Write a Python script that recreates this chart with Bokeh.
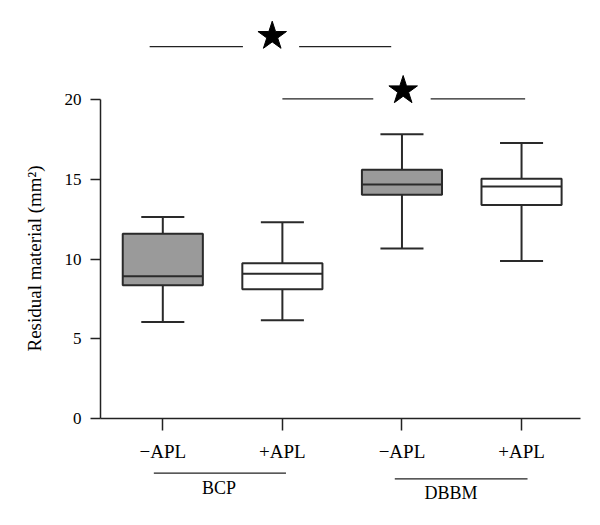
from bokeh.plotting import figure
from bokeh.layouts import column
from bokeh.models import Range1d, FixedTicker, ColumnDataSource, Title
from bokeh.core.properties import value
from bokeh.embed import file_html
from bokeh.resources import INLINE

# ---- data ----
positions = [1, 2, 3, 4]
tick_labels = ["−APL", "+APL", "−APL", "+APL"]
whisker_low = [6.06, 6.16, 10.66, 9.88]
q1 = [8.36, 8.11, 14.04, 13.39]
median = [8.92, 9.09, 14.69, 14.56]
q3 = [11.60, 9.74, 15.61, 15.05]
whisker_high = [12.64, 12.31, 17.84, 17.28]
groups = ["BCP", "DBBM"]
y_ticks = [0, 5, 10, 15, 20]
y_label = "Residual material (mm²)"

# ---- styles / layout ----
FONT = "Liberation Serif"
fills = ["#9a9a9a", "#ffffff", "#9a9a9a", "#ffffff"]
BOX_W = 0.67
CAP_W = 0.36
EDGE = "#2a2a2a"
W = 584

p = figure(width=W, height=470,
           x_range=Range1d(0.479, 4.493), y_range=Range1d(0, 25.35),
           output_backend="svg", toolbar_location=None,
           min_border_left=100, min_border_right=4,
           min_border_top=14, min_border_bottom=52)
p.outline_line_color = None
p.xgrid.visible = False
p.ygrid.visible = False
p.background_fill_color = "white"
p.border_fill_color = "white"

src = ColumnDataSource(dict(x=positions, lo=whisker_low, q1=q1, med=median,
                            q3=q3, hi=whisker_high, fill=fills,
                            bl=[x - BOX_W / 2 for x in positions],
                            br=[x + BOX_W / 2 for x in positions],
                            cl=[x - CAP_W / 2 for x in positions],
                            cr=[x + CAP_W / 2 for x in positions]))

# whiskers
p.segment(x0="x", y0="q3", x1="x", y1="hi", source=src, line_color=EDGE, line_width=2)
p.segment(x0="x", y0="lo", x1="x", y1="q1", source=src, line_color=EDGE, line_width=2)
p.segment(x0="cl", y0="hi", x1="cr", y1="hi", source=src, line_color=EDGE, line_width=2)
p.segment(x0="cl", y0="lo", x1="cr", y1="lo", source=src, line_color=EDGE, line_width=2)
# boxes
p.vbar(x="x", width=BOX_W, bottom="q1", top="q3", source=src,
       fill_color="fill", line_color=EDGE, line_width=2)
# medians
p.segment(x0="bl", y0="med", x1="br", y1="med", source=src, line_color=EDGE, line_width=2)

# significance markers
sig_y = [23.34, 20.06]
sig_star = [(1.915, 23.99), (3.01, 20.58)]
sig_left = [(0.89, 1.67), (2.0, 2.76)]
sig_right = [(2.14, 2.91), (3.24, 4.03)]
p.segment(x0=[a for a, b in sig_left], x1=[b for a, b in sig_left], y0=sig_y, y1=sig_y,
          line_color="#222222", line_width=1.3)
p.segment(x0=[a for a, b in sig_right], x1=[b for a, b in sig_right], y0=sig_y, y1=sig_y,
          line_color="#222222", line_width=1.3)
p.scatter(x=[s[0] for s in sig_star], y=[s[1] for s in sig_star], marker="star",
          size=30, fill_color="black", line_color="black")

# axes
xa = p.xaxis[0]
xa.ticker = FixedTicker(ticks=positions)
xa.major_label_overrides = {x: t for x, t in zip(positions, tick_labels)}
xa.minor_tick_line_color = None
xa.major_tick_in = 0
xa.major_tick_out = 12
xa.axis_line_width = 1.5
xa.major_tick_line_width = 1.5
xa.axis_line_color = "#222222"
xa.major_tick_line_color = "#222222"
xa.major_label_standoff = 10
xa.major_label_text_font = FONT
xa.major_label_text_font_size = "19px"
xa.major_label_text_color = "black"

ya = p.yaxis[0]
ya.ticker = FixedTicker(ticks=y_ticks)
ya.bounds = (0, 20)
ya.minor_tick_line_color = None
ya.major_tick_in = 0
ya.major_tick_out = 10
ya.axis_line_width = 1.5
ya.major_tick_line_width = 1.5
ya.axis_line_color = "#222222"
ya.major_tick_line_color = "#222222"
ya.major_label_standoff = 9
ya.major_label_text_font = FONT
ya.major_label_text_font_size = "17px"
ya.major_label_text_color = "black"

# y-axis title, positioned along the 0..20 part of the axis
p.add_layout(Title(text=y_label, align="left", offset=67, standoff=34,
                   vertical_align="bottom", text_font=FONT, text_font_size="19px",
                   text_font_style="normal", text_color="black"), "left")

# group labels strip below the x axis (shares the x scale)
g = figure(width=W, height=45, x_range=p.x_range, y_range=Range1d(-6.06, -3.24),
           output_backend="svg", toolbar_location=None,
           x_axis_type=None, y_axis_type=None,
           min_border_left=100, min_border_right=4, min_border_top=0, min_border_bottom=0)
g.outline_line_color = None
g.xgrid.visible = False
g.ygrid.visible = False
g.background_fill_color = "white"
g.border_fill_color = "white"

group_line_y = [-3.41, -3.76]
group_line_x = [(0.925, 2.03), (2.94, 4.05)]
group_text_x = [1.47, 3.41]
group_text_y = [-4.33, -4.65]
g.segment(x0=[a for a, b in group_line_x], x1=[b for a, b in group_line_x],
          y0=group_line_y, y1=group_line_y, line_color="#222222", line_width=1.3)
g.text(x=group_text_x, y=group_text_y, text=groups, text_align="center",
       text_baseline="middle", text_font=value(FONT), text_font_size="18px",
       text_color="black")

layout = column(p, g, spacing=0)
open("out.html", "w").write(file_html(layout, INLINE))
